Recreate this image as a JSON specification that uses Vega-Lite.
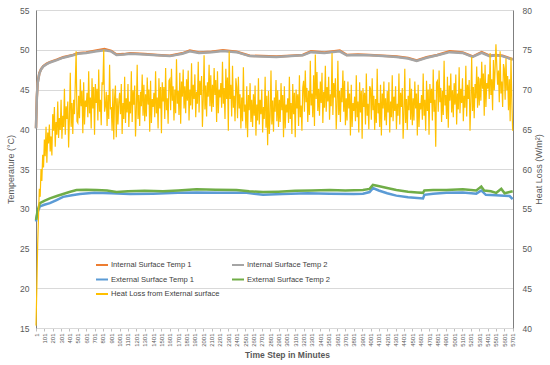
{
  "$schema": "https://vega.github.io/schema/vega-lite/v6.json",
  "width": 477,
  "height": 318,
  "autosize": {"type": "none"},
  "padding": {"left": 36, "top": 10, "right": 37, "bottom": 37},
  "config": {
    "view": {"stroke": null},
    "font": "Liberation Sans",
    "axis": {"labelColor": "#595959", "titleColor": "#595959", "gridColor": "#d9d9d9", "domainColor": "#8c8c8c", "tickColor": "#bfbfbf"}
  },
  "datasets": {
    "i1": [
      {"t": 1, "v": 40.15}, {"t": 11, "v": 44.05}, {"t": 21, "v": 45.85}, {"t": 41, "v": 47.05}, {"t": 61, "v": 47.55}, {"t": 88, "v": 47.95}, {"t": 130, "v": 48.25}, {"t": 167, "v": 48.45}, {"t": 250, "v": 48.75}, {"t": 325, "v": 49.05}, {"t": 444, "v": 49.35}, {"t": 500, "v": 49.55}, {"t": 600, "v": 49.65}, {"t": 725, "v": 49.9}, {"t": 820, "v": 50.1}, {"t": 900, "v": 49.85}, {"t": 964, "v": 49.4}, {"t": 1050, "v": 49.45}, {"t": 1130, "v": 49.55}, {"t": 1300, "v": 49.45}, {"t": 1450, "v": 49.35}, {"t": 1601, "v": 49.25}, {"t": 1750, "v": 49.55}, {"t": 1840, "v": 49.9}, {"t": 1950, "v": 49.65}, {"t": 2100, "v": 49.75}, {"t": 2236, "v": 49.95}, {"t": 2400, "v": 49.75}, {"t": 2557, "v": 49.25}, {"t": 2700, "v": 49.2}, {"t": 2876, "v": 49.15}, {"t": 3050, "v": 49.25}, {"t": 3190, "v": 49.35}, {"t": 3290, "v": 49.8}, {"t": 3450, "v": 49.65}, {"t": 3633, "v": 49.9}, {"t": 3716, "v": 49.35}, {"t": 3850, "v": 49.4}, {"t": 3991, "v": 49.35}, {"t": 4150, "v": 49.25}, {"t": 4314, "v": 49.15}, {"t": 4450, "v": 48.95}, {"t": 4553, "v": 48.65}, {"t": 4672, "v": 49.05}, {"t": 4800, "v": 49.35}, {"t": 4947, "v": 49.8}, {"t": 5103, "v": 49.65}, {"t": 5222, "v": 49.15}, {"t": 5330, "v": 49.7}, {"t": 5425, "v": 49.25}, {"t": 5500, "v": 49.35}, {"t": 5580, "v": 49.25}, {"t": 5688, "v": 48.85}, {"t": 5701, "v": 48.85}
    ],
    "i2": [
      {"t": 1, "v": 40.1}, {"t": 11, "v": 44.0}, {"t": 21, "v": 45.8}, {"t": 41, "v": 47.0}, {"t": 61, "v": 47.5}, {"t": 88, "v": 47.9}, {"t": 130, "v": 48.2}, {"t": 167, "v": 48.4}, {"t": 250, "v": 48.7}, {"t": 325, "v": 49.0}, {"t": 444, "v": 49.3}, {"t": 500, "v": 49.5}, {"t": 600, "v": 49.6}, {"t": 725, "v": 49.8}, {"t": 820, "v": 49.95}, {"t": 900, "v": 49.8}, {"t": 964, "v": 49.35}, {"t": 1050, "v": 49.4}, {"t": 1130, "v": 49.5}, {"t": 1300, "v": 49.4}, {"t": 1450, "v": 49.3}, {"t": 1601, "v": 49.2}, {"t": 1750, "v": 49.5}, {"t": 1840, "v": 49.8}, {"t": 1950, "v": 49.6}, {"t": 2100, "v": 49.7}, {"t": 2236, "v": 49.85}, {"t": 2400, "v": 49.7}, {"t": 2557, "v": 49.2}, {"t": 2700, "v": 49.15}, {"t": 2876, "v": 49.1}, {"t": 3050, "v": 49.2}, {"t": 3190, "v": 49.3}, {"t": 3290, "v": 49.7}, {"t": 3450, "v": 49.6}, {"t": 3633, "v": 49.8}, {"t": 3716, "v": 49.3}, {"t": 3850, "v": 49.35}, {"t": 3991, "v": 49.3}, {"t": 4150, "v": 49.2}, {"t": 4314, "v": 49.1}, {"t": 4450, "v": 48.9}, {"t": 4553, "v": 48.6}, {"t": 4672, "v": 49.0}, {"t": 4800, "v": 49.3}, {"t": 4947, "v": 49.7}, {"t": 5103, "v": 49.6}, {"t": 5222, "v": 49.1}, {"t": 5330, "v": 49.6}, {"t": 5425, "v": 49.2}, {"t": 5500, "v": 49.3}, {"t": 5580, "v": 49.2}, {"t": 5688, "v": 48.8}, {"t": 5701, "v": 48.8}
    ],
    "e1": [
      {"t": 1, "v": 28.4}, {"t": 21, "v": 29.6}, {"t": 48, "v": 30.3}, {"t": 100, "v": 30.5}, {"t": 167, "v": 30.7}, {"t": 247, "v": 31.1}, {"t": 325, "v": 31.5}, {"t": 430, "v": 31.7}, {"t": 526, "v": 31.85}, {"t": 700, "v": 32.0}, {"t": 900, "v": 31.95}, {"t": 1123, "v": 31.85}, {"t": 1400, "v": 31.9}, {"t": 1700, "v": 32.0}, {"t": 1920, "v": 32.05}, {"t": 2200, "v": 32.0}, {"t": 2518, "v": 32.0}, {"t": 2716, "v": 31.75}, {"t": 2950, "v": 31.85}, {"t": 3250, "v": 31.95}, {"t": 3513, "v": 31.9}, {"t": 3800, "v": 31.85}, {"t": 3911, "v": 31.9}, {"t": 3990, "v": 32.1}, {"t": 4030, "v": 32.6}, {"t": 4100, "v": 32.3}, {"t": 4200, "v": 31.95}, {"t": 4310, "v": 31.65}, {"t": 4450, "v": 31.45}, {"t": 4629, "v": 31.3}, {"t": 4645, "v": 31.75}, {"t": 4750, "v": 31.9}, {"t": 4908, "v": 32.0}, {"t": 5105, "v": 32.05}, {"t": 5266, "v": 31.9}, {"t": 5326, "v": 32.3}, {"t": 5380, "v": 31.75}, {"t": 5500, "v": 31.7}, {"t": 5600, "v": 31.65}, {"t": 5664, "v": 31.6}, {"t": 5701, "v": 31.2}
    ],
    "e2": [
      {"t": 1, "v": 28.6}, {"t": 21, "v": 29.8}, {"t": 48, "v": 30.7}, {"t": 100, "v": 31.0}, {"t": 167, "v": 31.3}, {"t": 250, "v": 31.6}, {"t": 325, "v": 31.85}, {"t": 400, "v": 32.1}, {"t": 486, "v": 32.35}, {"t": 600, "v": 32.4}, {"t": 725, "v": 32.35}, {"t": 850, "v": 32.3}, {"t": 964, "v": 32.1}, {"t": 1100, "v": 32.2}, {"t": 1300, "v": 32.25}, {"t": 1520, "v": 32.2}, {"t": 1700, "v": 32.3}, {"t": 1920, "v": 32.45}, {"t": 2150, "v": 32.4}, {"t": 2398, "v": 32.35}, {"t": 2550, "v": 32.2}, {"t": 2716, "v": 32.1}, {"t": 2900, "v": 32.15}, {"t": 3100, "v": 32.25}, {"t": 3300, "v": 32.3}, {"t": 3513, "v": 32.35}, {"t": 3700, "v": 32.3}, {"t": 3911, "v": 32.35}, {"t": 3990, "v": 32.5}, {"t": 4030, "v": 33.0}, {"t": 4080, "v": 32.9}, {"t": 4200, "v": 32.6}, {"t": 4310, "v": 32.35}, {"t": 4450, "v": 32.15}, {"t": 4560, "v": 32.05}, {"t": 4629, "v": 32.0}, {"t": 4645, "v": 32.3}, {"t": 4750, "v": 32.35}, {"t": 4908, "v": 32.35}, {"t": 5105, "v": 32.45}, {"t": 5266, "v": 32.3}, {"t": 5326, "v": 32.8}, {"t": 5360, "v": 32.3}, {"t": 5440, "v": 32.2}, {"t": 5505, "v": 32.0}, {"t": 5565, "v": 32.5}, {"t": 5605, "v": 31.95}, {"t": 5664, "v": 32.1}, {"t": 5701, "v": 32.2}
    ],
    "hl": [
      {"t":1,"v":40.3},{"t":11,"v":45},{"t":21,"v":50.5},{"t":31,"v":54},{"t":41,"v":57.5},{"t":51,"v":56.5},{"t":61,"v":60},{"t":71,"v":58.5},{"t":81,"v":61.8},{"t":91,"v":60.2},
      {"t":101,"v":63.7},{"t":111,"v":61.6},{"t":121,"v":65.3},{"t":131,"v":60.8},{"t":141,"v":64.6},{"t":151,"v":63.2},{"t":161,"v":65.6},{"t":171,"v":62.2},{"t":181,"v":64.1},{"t":191,"v":61.7},
      {"t":201,"v":66.9},{"t":211,"v":64.8},{"t":221,"v":67.8},{"t":231,"v":62.8},{"t":241,"v":65.9},{"t":251,"v":64.3},{"t":261,"v":68.5},{"t":271,"v":63.9},{"t":281,"v":66.4},{"t":291,"v":64.9},
      {"t":301,"v":68.7},{"t":311,"v":63.8},{"t":321,"v":66.7},{"t":331,"v":65.3},{"t":341,"v":70.1},{"t":351,"v":64.3},{"t":361,"v":67.9},{"t":371,"v":66.3},{"t":381,"v":68.5},{"t":391,"v":62.7},
      {"t":401,"v":66.5},{"t":411,"v":72.1},{"t":421,"v":65.3},{"t":431,"v":68.3},{"t":441,"v":64.4},{"t":451,"v":68.7},{"t":461,"v":66.9},{"t":471,"v":70.9},{"t":481,"v":74.8},{"t":491,"v":66.0},
      {"t":501,"v":65.8},{"t":511,"v":69.2},{"t":521,"v":66.4},{"t":531,"v":71.3},{"t":541,"v":67.9},{"t":551,"v":69.8},{"t":561,"v":64.5},{"t":571,"v":70.9},{"t":581,"v":65.6},{"t":591,"v":68.6},
      {"t":601,"v":67.8},{"t":611,"v":69.6},{"t":621,"v":66.5},{"t":631,"v":72.3},{"t":641,"v":67.0},{"t":651,"v":69.0},{"t":661,"v":65.1},{"t":671,"v":71.4},{"t":681,"v":67.6},{"t":691,"v":70.3},
      {"t":701,"v":64.3},{"t":711,"v":70.7},{"t":721,"v":68.3},{"t":731,"v":70.1},{"t":741,"v":66.1},{"t":751,"v":72.5},{"t":761,"v":67.2},{"t":771,"v":68.7},{"t":781,"v":65.5},{"t":791,"v":70.9},
      {"t":801,"v":70.6},{"t":811,"v":75.0},{"t":821,"v":67.2},{"t":831,"v":67.9},{"t":841,"v":69.7},{"t":851,"v":65.4},{"t":861,"v":69.3},{"t":871,"v":66.3},{"t":881,"v":73.1},{"t":891,"v":67.5},
      {"t":901,"v":67.8},{"t":911,"v":64.8},{"t":921,"v":70.1},{"t":931,"v":63.7},{"t":941,"v":69.0},{"t":951,"v":70.5},{"t":961,"v":64.0},{"t":971,"v":68.9},{"t":981,"v":65.6},{"t":991,"v":68.4},
      {"t":1001,"v":69.6},{"t":1011,"v":66.9},{"t":1021,"v":70.7},{"t":1031,"v":64.4},{"t":1041,"v":68.3},{"t":1051,"v":66.3},{"t":1061,"v":71.6},{"t":1071,"v":65.8},{"t":1081,"v":68.9},{"t":1091,"v":67.1},
      {"t":1101,"v":70.7},{"t":1111,"v":65.3},{"t":1121,"v":68.5},{"t":1131,"v":67.0},{"t":1141,"v":72.3},{"t":1151,"v":65.9},{"t":1161,"v":69.9},{"t":1171,"v":68.1},{"t":1181,"v":70.5},{"t":1191,"v":64.1},
      {"t":1201,"v":67.5},{"t":1211,"v":73.1},{"t":1221,"v":66.3},{"t":1231,"v":69.3},{"t":1241,"v":65.4},{"t":1251,"v":69.7},{"t":1261,"v":67.9},{"t":1271,"v":71.9},{"t":1281,"v":66.7},{"t":1291,"v":70.6},
      {"t":1301,"v":66.0},{"t":1311,"v":69.4},{"t":1321,"v":66.6},{"t":1331,"v":71.5},{"t":1341,"v":68.1},{"t":1351,"v":70.0},{"t":1361,"v":64.7},{"t":1371,"v":71.1},{"t":1381,"v":65.8},{"t":1391,"v":68.8},
      {"t":1401,"v":67.8},{"t":1411,"v":69.6},{"t":1421,"v":66.5},{"t":1431,"v":72.3},{"t":1441,"v":67.0},{"t":1451,"v":69.0},{"t":1461,"v":65.1},{"t":1471,"v":71.4},{"t":1481,"v":67.6},{"t":1491,"v":70.3},
      {"t":1501,"v":64.5},{"t":1511,"v":70.9},{"t":1521,"v":68.5},{"t":1531,"v":70.3},{"t":1541,"v":66.3},{"t":1551,"v":72.7},{"t":1561,"v":67.4},{"t":1571,"v":68.9},{"t":1581,"v":65.7},{"t":1591,"v":71.1},
      {"t":1601,"v":71.3},{"t":1611,"v":67.4},{"t":1621,"v":72.6},{"t":1631,"v":68.6},{"t":1641,"v":70.4},{"t":1651,"v":66.1},{"t":1661,"v":70.0},{"t":1671,"v":67.0},{"t":1681,"v":73.8},{"t":1691,"v":68.2},
      {"t":1701,"v":69.8},{"t":1711,"v":66.8},{"t":1721,"v":72.1},{"t":1731,"v":65.7},{"t":1741,"v":71.0},{"t":1751,"v":69.1},{"t":1761,"v":72.5},{"t":1771,"v":67.6},{"t":1781,"v":70.4},{"t":1791,"v":67.0},
      {"t":1801,"v":71.3},{"t":1811,"v":68.6},{"t":1821,"v":72.4},{"t":1831,"v":66.1},{"t":1841,"v":70.0},{"t":1851,"v":68.0},{"t":1861,"v":73.3},{"t":1871,"v":67.5},{"t":1881,"v":70.6},{"t":1891,"v":68.8},
      {"t":1901,"v":71.9},{"t":1911,"v":66.5},{"t":1921,"v":69.7},{"t":1931,"v":68.2},{"t":1941,"v":73.5},{"t":1951,"v":67.1},{"t":1961,"v":71.1},{"t":1971,"v":69.3},{"t":1981,"v":71.7},{"t":1991,"v":65.3},
      {"t":2001,"v":68.7},{"t":2011,"v":74.3},{"t":2021,"v":67.5},{"t":2031,"v":70.5},{"t":2041,"v":66.6},{"t":2051,"v":70.9},{"t":2061,"v":69.1},{"t":2071,"v":73.1},{"t":2081,"v":67.9},{"t":2091,"v":71.8},
      {"t":2101,"v":67.2},{"t":2111,"v":70.6},{"t":2121,"v":67.8},{"t":2131,"v":72.7},{"t":2141,"v":69.3},{"t":2151,"v":71.2},{"t":2161,"v":65.9},{"t":2171,"v":72.3},{"t":2181,"v":67.0},{"t":2191,"v":70.0},
      {"t":2201,"v":69.0},{"t":2211,"v":70.8},{"t":2221,"v":67.7},{"t":2231,"v":73.5},{"t":2241,"v":68.2},{"t":2251,"v":70.2},{"t":2261,"v":66.3},{"t":2271,"v":72.6},{"t":2281,"v":68.8},{"t":2291,"v":71.5},
      {"t":2301,"v":64.8},{"t":2311,"v":74.8},{"t":2321,"v":68.8},{"t":2331,"v":70.6},{"t":2341,"v":66.6},{"t":2351,"v":73.0},{"t":2361,"v":67.7},{"t":2371,"v":69.2},{"t":2381,"v":66.0},{"t":2391,"v":71.4},
      {"t":2401,"v":70.3},{"t":2411,"v":66.4},{"t":2421,"v":71.6},{"t":2431,"v":67.6},{"t":2441,"v":69.4},{"t":2451,"v":65.1},{"t":2461,"v":69.0},{"t":2471,"v":66.0},{"t":2481,"v":72.8},{"t":2491,"v":67.2},
      {"t":2501,"v":68.1},{"t":2511,"v":65.1},{"t":2521,"v":70.4},{"t":2531,"v":64.0},{"t":2541,"v":69.3},{"t":2551,"v":67.4},{"t":2561,"v":70.8},{"t":2571,"v":65.9},{"t":2581,"v":68.7},{"t":2591,"v":65.3},
      {"t":2601,"v":69.4},{"t":2611,"v":66.7},{"t":2621,"v":70.5},{"t":2631,"v":64.2},{"t":2641,"v":68.1},{"t":2651,"v":66.1},{"t":2661,"v":71.4},{"t":2671,"v":65.6},{"t":2681,"v":68.7},{"t":2691,"v":66.9},
      {"t":2701,"v":70.0},{"t":2711,"v":64.6},{"t":2721,"v":67.8},{"t":2731,"v":66.3},{"t":2741,"v":71.6},{"t":2751,"v":65.2},{"t":2761,"v":69.2},{"t":2771,"v":63.0},{"t":2781,"v":69.8},{"t":2791,"v":64.4},
      {"t":2801,"v":66.8},{"t":2811,"v":72.4},{"t":2821,"v":65.6},{"t":2831,"v":68.6},{"t":2841,"v":64.7},{"t":2851,"v":69.0},{"t":2861,"v":67.2},{"t":2871,"v":71.2},{"t":2881,"v":66.0},{"t":2891,"v":69.9},
      {"t":2901,"v":65.3},{"t":2911,"v":68.7},{"t":2921,"v":65.9},{"t":2931,"v":70.8},{"t":2941,"v":67.4},{"t":2951,"v":69.3},{"t":2961,"v":64.0},{"t":2971,"v":70.4},{"t":2981,"v":65.1},{"t":2991,"v":68.1},
      {"t":3001,"v":67.1},{"t":3011,"v":68.9},{"t":3021,"v":65.8},{"t":3031,"v":71.6},{"t":3041,"v":66.3},{"t":3051,"v":68.3},{"t":3061,"v":64.4},{"t":3071,"v":70.7},{"t":3081,"v":66.9},{"t":3091,"v":69.6},
      {"t":3101,"v":64.0},{"t":3111,"v":70.0},{"t":3121,"v":67.6},{"t":3131,"v":69.4},{"t":3141,"v":65.4},{"t":3151,"v":71.8},{"t":3161,"v":66.5},{"t":3171,"v":68.0},{"t":3181,"v":64.8},{"t":3191,"v":70.2},
      {"t":3201,"v":71.1},{"t":3211,"v":67.2},{"t":3221,"v":72.4},{"t":3231,"v":68.4},{"t":3241,"v":70.2},{"t":3251,"v":65.9},{"t":3261,"v":69.8},{"t":3271,"v":66.8},{"t":3281,"v":73.6},{"t":3291,"v":68.0},
      {"t":3301,"v":69.5},{"t":3311,"v":66.5},{"t":3321,"v":71.8},{"t":3331,"v":65.4},{"t":3341,"v":74.4},{"t":3351,"v":68.8},{"t":3361,"v":72.2},{"t":3371,"v":67.3},{"t":3381,"v":70.1},{"t":3391,"v":66.7},
      {"t":3401,"v":71.0},{"t":3411,"v":68.3},{"t":3421,"v":72.1},{"t":3431,"v":65.8},{"t":3441,"v":69.7},{"t":3451,"v":67.7},{"t":3461,"v":73.0},{"t":3471,"v":67.2},{"t":3481,"v":70.3},{"t":3491,"v":68.5},
      {"t":3501,"v":71.6},{"t":3511,"v":66.2},{"t":3521,"v":69.4},{"t":3531,"v":67.9},{"t":3541,"v":74.6},{"t":3551,"v":66.8},{"t":3561,"v":70.8},{"t":3571,"v":69.0},{"t":3581,"v":71.4},{"t":3591,"v":65.0},
      {"t":3601,"v":68.0},{"t":3611,"v":73.6},{"t":3621,"v":66.8},{"t":3631,"v":69.8},{"t":3641,"v":65.9},{"t":3651,"v":70.2},{"t":3661,"v":68.4},{"t":3671,"v":72.4},{"t":3681,"v":67.2},{"t":3691,"v":71.1},
      {"t":3701,"v":65.5},{"t":3711,"v":68.9},{"t":3721,"v":66.1},{"t":3731,"v":71.0},{"t":3741,"v":67.6},{"t":3751,"v":69.5},{"t":3761,"v":64.2},{"t":3771,"v":70.6},{"t":3781,"v":65.3},{"t":3791,"v":68.3},
      {"t":3801,"v":67.3},{"t":3811,"v":69.1},{"t":3821,"v":66.0},{"t":3831,"v":71.8},{"t":3841,"v":66.5},{"t":3851,"v":68.5},{"t":3861,"v":64.6},{"t":3871,"v":70.9},{"t":3881,"v":67.1},{"t":3891,"v":69.8},
      {"t":3901,"v":63.8},{"t":3911,"v":70.2},{"t":3921,"v":67.8},{"t":3931,"v":69.6},{"t":3941,"v":65.6},{"t":3951,"v":72.0},{"t":3961,"v":66.7},{"t":3971,"v":68.2},{"t":3981,"v":65.0},{"t":3991,"v":70.4},
      {"t":4001,"v":70.1},{"t":4011,"v":66.2},{"t":4021,"v":71.4},{"t":4031,"v":67.4},{"t":4041,"v":69.2},{"t":4051,"v":64.9},{"t":4061,"v":68.8},{"t":4071,"v":65.8},{"t":4081,"v":72.6},{"t":4091,"v":67.0},
      {"t":4101,"v":68.3},{"t":4111,"v":65.3},{"t":4121,"v":70.6},{"t":4131,"v":64.2},{"t":4141,"v":69.5},{"t":4151,"v":67.6},{"t":4161,"v":71.0},{"t":4171,"v":66.1},{"t":4181,"v":68.9},{"t":4191,"v":65.5},
      {"t":4201,"v":69.8},{"t":4211,"v":67.1},{"t":4221,"v":70.9},{"t":4231,"v":64.6},{"t":4241,"v":68.5},{"t":4251,"v":66.5},{"t":4261,"v":71.8},{"t":4271,"v":66.0},{"t":4281,"v":69.1},{"t":4291,"v":67.3},
      {"t":4301,"v":70.4},{"t":4311,"v":65.0},{"t":4321,"v":68.2},{"t":4331,"v":66.7},{"t":4341,"v":72.0},{"t":4351,"v":65.6},{"t":4361,"v":69.6},{"t":4371,"v":67.8},{"t":4381,"v":70.2},{"t":4391,"v":63.8},
      {"t":4401,"v":67.0},{"t":4411,"v":72.6},{"t":4421,"v":65.8},{"t":4431,"v":68.8},{"t":4441,"v":64.9},{"t":4451,"v":69.2},{"t":4461,"v":67.4},{"t":4471,"v":71.4},{"t":4481,"v":66.2},{"t":4491,"v":70.1},
      {"t":4501,"v":65.5},{"t":4511,"v":68.9},{"t":4521,"v":66.1},{"t":4531,"v":71.0},{"t":4541,"v":67.6},{"t":4551,"v":69.5},{"t":4561,"v":64.2},{"t":4571,"v":70.6},{"t":4581,"v":65.3},{"t":4591,"v":68.3},
      {"t":4601,"v":67.5},{"t":4611,"v":69.3},{"t":4621,"v":66.2},{"t":4631,"v":72.0},{"t":4641,"v":66.7},{"t":4651,"v":68.7},{"t":4661,"v":64.8},{"t":4671,"v":71.1},{"t":4681,"v":67.3},{"t":4691,"v":70.0},
      {"t":4701,"v":64.3},{"t":4711,"v":70.7},{"t":4721,"v":68.3},{"t":4731,"v":70.1},{"t":4741,"v":66.1},{"t":4751,"v":72.5},{"t":4761,"v":67.2},{"t":4771,"v":68.7},{"t":4781,"v":62.8},{"t":4791,"v":70.9},
      {"t":4801,"v":71.1},{"t":4811,"v":67.2},{"t":4821,"v":72.4},{"t":4831,"v":68.4},{"t":4841,"v":70.2},{"t":4851,"v":65.9},{"t":4861,"v":69.8},{"t":4871,"v":66.8},{"t":4881,"v":73.6},{"t":4891,"v":68.0},
      {"t":4901,"v":69.3},{"t":4911,"v":66.3},{"t":4921,"v":71.6},{"t":4931,"v":65.2},{"t":4941,"v":70.5},{"t":4951,"v":68.6},{"t":4961,"v":72.0},{"t":4971,"v":67.1},{"t":4981,"v":69.9},{"t":4991,"v":66.5},
      {"t":5001,"v":70.8},{"t":5011,"v":68.1},{"t":5021,"v":71.9},{"t":5031,"v":65.6},{"t":5041,"v":69.5},{"t":5051,"v":67.5},{"t":5061,"v":72.8},{"t":5071,"v":67.0},{"t":5081,"v":70.1},{"t":5091,"v":68.3},
      {"t":5101,"v":71.4},{"t":5111,"v":66.0},{"t":5121,"v":69.2},{"t":5131,"v":67.7},{"t":5141,"v":73.0},{"t":5151,"v":66.6},{"t":5161,"v":70.6},{"t":5171,"v":68.8},{"t":5181,"v":71.2},{"t":5191,"v":64.8},
      {"t":5201,"v":68.5},{"t":5211,"v":74.1},{"t":5221,"v":67.3},{"t":5231,"v":70.3},{"t":5241,"v":66.4},{"t":5251,"v":70.7},{"t":5261,"v":68.9},{"t":5271,"v":72.9},{"t":5281,"v":67.7},{"t":5291,"v":71.6},
      {"t":5301,"v":68.0},{"t":5311,"v":71.4},{"t":5321,"v":68.6},{"t":5331,"v":73.5},{"t":5341,"v":70.1},{"t":5351,"v":72.0},{"t":5361,"v":66.7},{"t":5371,"v":73.1},{"t":5381,"v":67.8},{"t":5391,"v":70.8},
      {"t":5401,"v":70.1},{"t":5411,"v":71.9},{"t":5421,"v":68.8},{"t":5431,"v":74.6},{"t":5441,"v":69.3},{"t":5451,"v":71.3},{"t":5461,"v":67.4},{"t":5471,"v":73.7},{"t":5481,"v":69.9},{"t":5491,"v":72.6},
      {"t":5501,"v":75.7},{"t":5511,"v":73.0},{"t":5521,"v":70.6},{"t":5531,"v":72.4},{"t":5541,"v":68.4},{"t":5551,"v":74.8},{"t":5561,"v":69.5},{"t":5571,"v":71.0},{"t":5581,"v":67.8},{"t":5591,"v":73.2},
      {"t":5601,"v":72.6},{"t":5611,"v":68.7},{"t":5621,"v":73.9},{"t":5631,"v":69.9},{"t":5641,"v":71.7},{"t":5651,"v":67.4},{"t":5661,"v":71.3},{"t":5671,"v":66.0},{"t":5681,"v":74.0},{"t":5691,"v":68.5},
      {"t":5701,"v":64.8}
    ]
  },
  "encoding": {
    "x": {
      "field": "t",
      "type": "quantitative",
      "scale": {"domain": [1, 5705], "nice": false, "zero": false},
      "axis": {
        "title": "Time Step in Minutes",
        "values": [1, 101, 201, 301, 401, 501, 601, 701, 801, 901, 1001, 1101, 1201, 1301, 1401, 1501, 1601, 1701, 1801, 1901, 2001, 2101, 2201, 2301, 2401, 2501, 2601, 2701, 2801, 2901, 3001, 3101, 3201, 3301, 3401, 3501, 3601, 3701, 3801, 3901, 4001, 4101, 4201, 4301, 4401, 4501, 4601, 4701, 4801, 4901, 5001, 5101, 5201, 5301, 5401, 5501, 5601, 5701],
        "format": "d",
        "grid": false,
        "labelAngle": 270,
        "labelAlign": "right",
        "labelBaseline": "middle",
        "labelFontSize": 6,
        "labelPadding": 2,
        "labelOverlap": false,
        "labelFlush": false,
        "labelBound": false,
        "tickSize": 3,
        "domainColor": "#d9d9d9",
        "titleFontSize": 8.5,
        "titleFontWeight": "bold",
        "titlePadding": 4,
        "titleX": 251
      }
    }
  },
  "layer": [
    {
      "encoding": {
        "y": {
          "field": "v",
          "type": "quantitative",
          "scale": {"domain": [15, 55], "nice": false, "zero": false},
          "axis": {
            "title": "Temperature (°C)",
            "orient": "left",
            "values": [15, 20, 25, 30, 35, 40, 45, 50, 55],
            "grid": true,
            "ticks": false,
            "tickSize": 0,
            "labelFontSize": 8.5,
            "labelPadding": 7,
            "domainColor": "#7f7f7f",
            "titleFontSize": 9,
            "titleFontWeight": "normal",
            "titlePadding": 4
          }
        }
      },
      "layer": [
        {
          "data": {"name": "i1"},
          "mark": {"type": "line", "strokeWidth": 2.5},
          "encoding": {
            "color": {
              "datum": "Internal Surface Temp 1",
              "scale": {
                "domain": ["Internal Surface Temp 1", "External Surface Temp 1", "Heat Loss from External surface", "Internal Surface Temp 2", "External Surface Temp 2"],
                "range": ["#ED7D31", "#5B9BD5", "#FFC000", "#A5A5A5", "#70AD47"]
              },
              "legend": {
                "orient": "none",
                "legendX": 59,
                "legendY": 248,
                "columns": 2,
                "title": null,
                "symbolType": "stroke",
                "symbolSize": 144,
                "symbolStrokeWidth": 2,
                "labelFontSize": 7.6,
                "labelColor": "#404040",
                "columnPadding": 8,
                "rowPadding": 3.5,
                "labelOffset": 2
              }
            }
          }
        },
        {
          "data": {"name": "i2"},
          "mark": {"type": "line", "strokeWidth": 2.5},
          "encoding": {"color": {"datum": "Internal Surface Temp 2"}}
        },
        {
          "data": {"name": "e1"},
          "mark": {"type": "line", "strokeWidth": 2.5},
          "encoding": {"color": {"datum": "External Surface Temp 1"}}
        },
        {
          "data": {"name": "e2"},
          "mark": {"type": "line", "strokeWidth": 2.5},
          "encoding": {"color": {"datum": "External Surface Temp 2"}}
        }
      ]
    },
    {
      "data": {"name": "hl"},
      "mark": {"type": "line", "strokeWidth": 1.2},
      "encoding": {
        "y": {
          "field": "v",
          "type": "quantitative",
          "scale": {"domain": [40, 80], "nice": false, "zero": false},
          "axis": {
            "title": "Heat Loss (W/m²)",
            "orient": "right",
            "values": [40, 45, 50, 55, 60, 65, 70, 75, 80],
            "grid": false,
            "ticks": false,
            "tickSize": 0,
            "labelFontSize": 8.5,
            "labelPadding": 9,
            "domainColor": "#7f7f7f",
            "titleFontSize": 9,
            "titleFontWeight": "normal",
            "titleAngle": 270,
            "titleBaseline": "top",
            "titlePadding": 3
          }
        },
        "color": {"datum": "Heat Loss from External surface"}
      }
    }
  ],
  "resolve": {"scale": {"y": "independent"}}
}
